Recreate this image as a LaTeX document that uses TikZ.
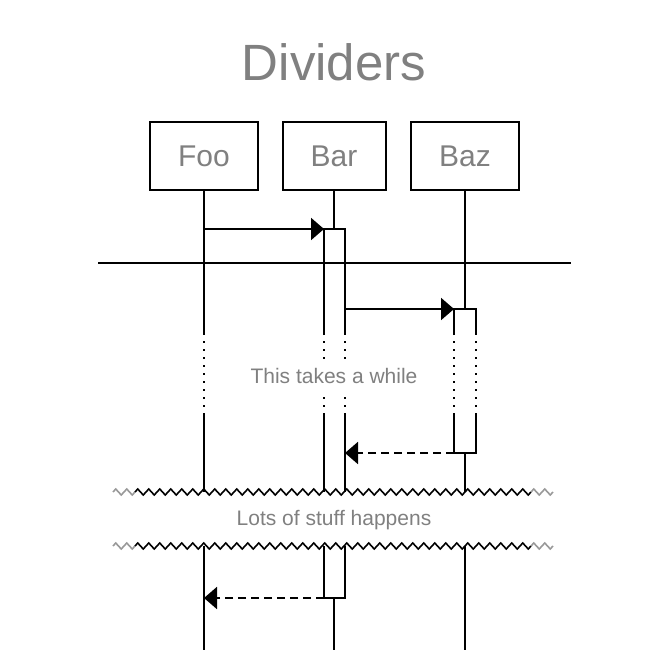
\documentclass[tikz,border=0pt]{standalone}
\usepackage{fontspec}
\setmainfont{Liberation Sans}
\usetikzlibrary{%
  arrows.meta,%
  calc,%
  decorations.pathmorphing%
}
\definecolor{txtgray}{HTML}{808080}
\tikzset{>={Triangle[length=13pt,width=22pt]}}
\tikzset{
  actor/.style={draw,line width=2pt,minimum height=68pt,text=txtgray,
    font=\fontsize{30}{34}\selectfont},
  life/.style={line width=2pt},
  dots/.style={line width=2pt,dash pattern=on 2pt off 6pt},
  msg/.style={line width=2pt,->},
  reply/.style={line width=2pt,->,dash pattern=on 8pt off 5pt},
  note/.style={fill=white,text=txtgray,inner sep=8pt,
    font=\fontsize{21}{24}\selectfont},
  wave/.style={line width=1.6pt,decorate,
    decoration={zigzag,segment length=11pt,amplitude=3pt}}
}

\begin{document}
\begin{tikzpicture}[x=1pt,y=-1pt]
  \useasboundingbox (0,0) rectangle (654,668);
  \node[text=txtgray,font=\fontsize{51}{56}\selectfont] (title) at (334,62) {Dividers};
  \node[actor,minimum width=108pt] (foo) at (204,156) {Foo};
  \node[actor,minimum width=103pt] (bar) at (334,156) {Bar};
  \node[actor,minimum width=108pt] (baz) at (465,156) {Baz};

  % lifelines
  \draw[life] (foo.south) -- (204,335);
  \draw[life] (204,413) -- (204,492);
  \draw[life] (204,546) -- (204,650);
  \draw[life] (bar.south) -- (334,229);
  \draw[life] (334,598) -- (334,650);
  \draw[life] (baz.south) -- (465,309);
  \draw[life] (465,453) -- (465,492);
  \draw[life] (465,546) -- (465,650);

  % activations
  \draw[life] (324,335) -- (324,229) -- (345,229) -- (345,335);
  \draw[life] (324,413) -- (324,492);
  \draw[life] (345,413) -- (345,492);
  \draw[life] (324,546) -- (324,598) -- (345,598) -- (345,546);
  \draw[life] (454,335) -- (454,309) -- (476,309) -- (476,335);
  \draw[life] (454,413) -- (454,453) -- (476,453) -- (476,413);

  % delay
  \foreach \x in {204,324,345,454,476}
    \draw[dots] (\x,341) -- (\x,411);
  \node[note] (delay) at (334,376) {This takes a while};

  % messages
  \coordinate (m1s) at (204,229);
  \coordinate (m1e) at (324,229);
  \coordinate (m2s) at (345,309);
  \coordinate (m2e) at (454,309);
  \coordinate (r1s) at (454,453);
  \coordinate (r1e) at (345,453);
  \coordinate (r2s) at (324,598);
  \coordinate (r2e) at (204,598);
  \draw[msg] (m1s) -- (m1e);
  \draw[msg] (m2s) -- (m2e);
  \draw[reply] (r1s) -- (r1e);
  \draw[reply] (r2s) -- (r2e);

  % dividers
  \coordinate (lineL) at (98,263);
  \coordinate (lineR) at (571,263);
  \draw[life] (lineL) -- (lineR);
  \foreach \y in {492,546}{
    \draw[wave,black!40] (113,\y) -- (135,\y);
    \draw[wave] (135,\y) -- (531,\y);
    \draw[wave,black!40] (531,\y) -- (553,\y);
  }
  \node[text=txtgray,font=\fontsize{21}{24}\selectfont] (stuff) at (334,520)
  {Lots of stuff happens};
\end{tikzpicture}
\end{document}
